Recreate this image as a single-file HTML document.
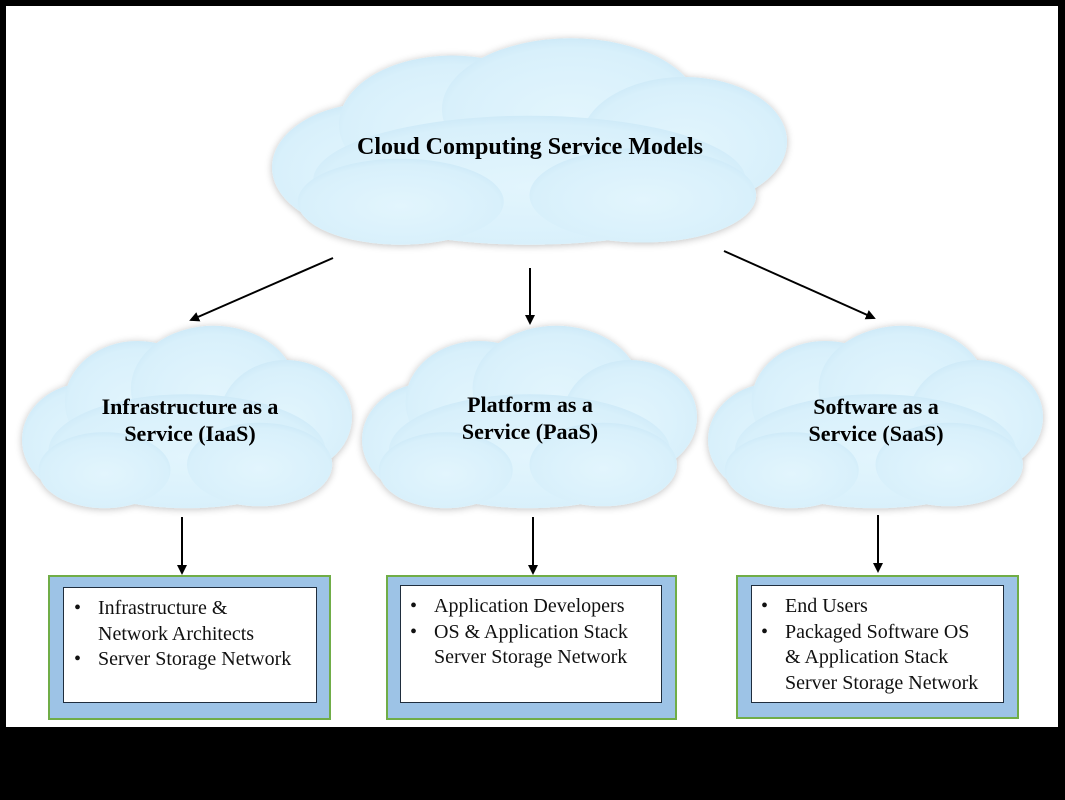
<!DOCTYPE html>
<html><head><style>
body{margin:0;background:#000;width:1065px;height:800px;overflow:hidden;position:relative;font-family:"Liberation Serif",serif}
#w{position:absolute;left:6px;top:6px;width:1052px;height:721px;background:#fff}
svg{position:absolute;left:0;top:0}
.box{position:absolute;background:#9dc3e6;border:2px solid #70ad47;box-sizing:border-box}
.in{position:absolute;background:#fff;border:1.5px solid #1f2d3d;box-sizing:border-box;font-size:20px;line-height:25.5px;color:#111}
.in ul{margin:0;padding:0 0 0 32px}
.in li{list-style:none;position:relative;white-space:nowrap}
.in li:before{content:"•";position:absolute;left:-24px}
.t{position:absolute;text-align:center;font-weight:bold;color:#000}
</style></head><body>
<div id="w"></div>
<svg width="1065" height="800">
<defs>
<filter id="g" x="-20%" y="-20%" width="140%" height="140%"><feGaussianBlur in="SourceAlpha" stdDeviation="4"/><feOffset dx="0" dy="1"/><feComponentTransfer><feFuncA type="linear" slope="0.25"/></feComponentTransfer><feMerge><feMergeNode/><feMergeNode in="SourceGraphic"/></feMerge></filter>
<radialGradient id="cg" cx="50%" cy="55%" r="60%"><stop offset="0" stop-color="#e2f5fd"/><stop offset="0.8" stop-color="#d8f0fb"/><stop offset="1" stop-color="#c8e6f6"/></radialGradient>
<g id="cl">
<ellipse cx="0.2" cy="0.62" rx="0.2" ry="0.3"/>
<ellipse cx="0.35" cy="0.42" rx="0.22" ry="0.32"/>
<ellipse cx="0.58" cy="0.35" rx="0.25" ry="0.33"/>
<ellipse cx="0.8" cy="0.5" rx="0.2" ry="0.3"/>
<ellipse cx="0.5" cy="0.68" rx="0.42" ry="0.3"/>
<ellipse cx="0.25" cy="0.78" rx="0.2" ry="0.2"/>
<ellipse cx="0.72" cy="0.75" rx="0.22" ry="0.22"/>
</g>
<marker id="a" markerWidth="10" markerHeight="10" refX="8" refY="5" orient="auto" markerUnits="userSpaceOnUse"><path d="M0,0 L10,5 L0,10 z" fill="#000"/></marker>
</defs>
<g filter="url(#g)" fill="url(#cg)">
<use href="#cl" transform="translate(272,34) scale(515,215)"/>
<use href="#cl" transform="translate(22,322) scale(330,190)"/>
<use href="#cl" transform="translate(362,322) scale(335,190)"/>
<use href="#cl" transform="translate(708,322) scale(335,190)"/>
</g>
<g stroke="#000" stroke-width="2" marker-end="url(#a)">
<line x1="333" y1="258" x2="191" y2="320"/>
<line x1="530" y1="268" x2="530" y2="323"/>
<line x1="724" y1="251" x2="874" y2="318"/>
<line x1="182" y1="517" x2="182" y2="573"/>
<line x1="533" y1="517" x2="533" y2="573"/>
<line x1="878" y1="515" x2="878" y2="571"/>
</g>
</svg>
<div class="t" style="left:280px;top:134px;width:500px;font-size:24px">Cloud Computing Service Models</div>
<div class="t" style="left:40px;top:393px;width:300px;font-size:22px;line-height:27px">Infrastructure as a<br>Service (IaaS)</div>
<div class="t" style="left:380px;top:391px;width:300px;font-size:22px;line-height:27px">Platform as a<br>Service (PaaS)</div>
<div class="t" style="left:726px;top:393px;width:300px;font-size:22px;line-height:27px">Software as a<br>Service (SaaS)</div>
<div class="box" style="left:48px;top:575px;width:283px;height:145px"></div>
<div class="in" style="left:63px;top:587px;width:254px;height:116px;padding:8px 0 0 2px"><ul><li>Infrastructure &amp;<br>Network Architects</li><li>Server Storage Network</li></ul></div>
<div class="box" style="left:386px;top:575px;width:291px;height:145px"></div>
<div class="in" style="left:400px;top:585px;width:262px;height:118px;padding:8px 0 0 1px"><ul><li>Application Developers</li><li>OS &amp; Application Stack<br>Server Storage Network</li></ul></div>
<div class="box" style="left:736px;top:575px;width:283px;height:144px"></div>
<div class="in" style="left:751px;top:585px;width:253px;height:118px;padding:8px 0 0 1px"><ul><li>End Users</li><li>Packaged Software OS<br>&amp; Application Stack<br>Server Storage Network</li></ul></div>
</body></html>
